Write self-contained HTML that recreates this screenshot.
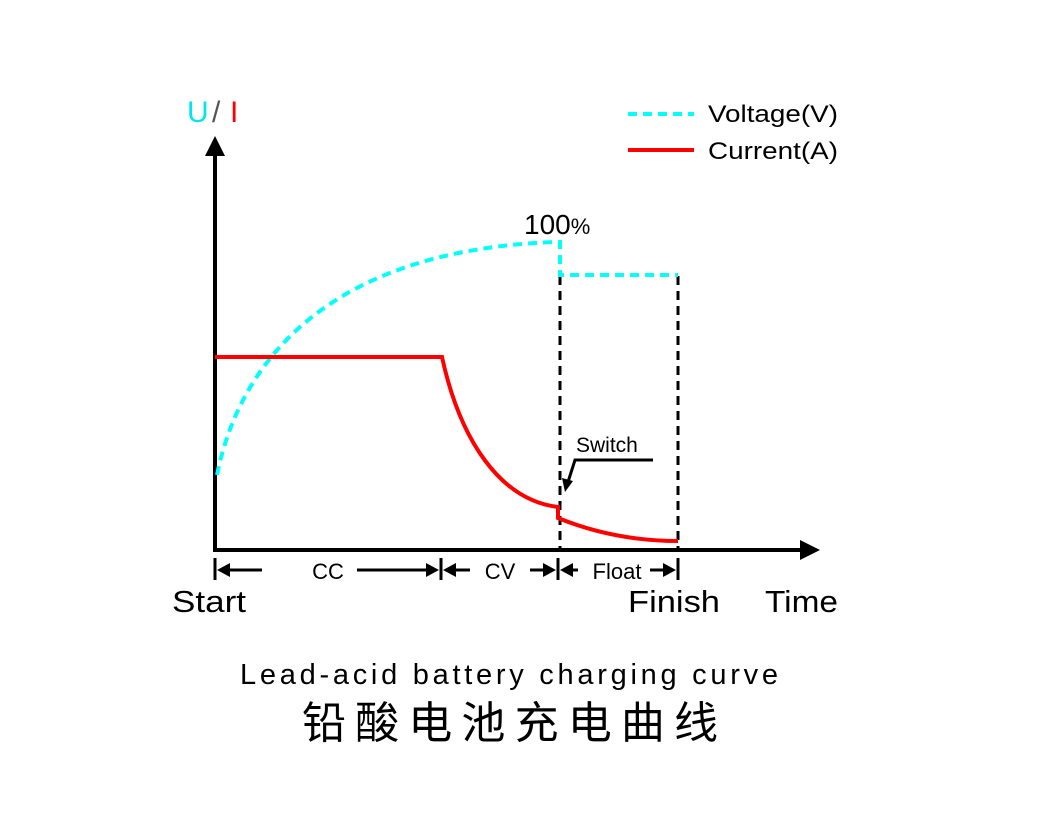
<!DOCTYPE html>
<html><head><style>
body{margin:0;background:#fff;}
svg{display:block;font-family:"Liberation Sans","Noto Sans CJK SC",sans-serif;}
</style></head><body>
<svg width="1040" height="813" viewBox="0 0 1040 813">
<line x1="215" y1="150" x2="215" y2="551" stroke="#000" stroke-width="4"/>
<polygon points="215,136 205,156 225,156" fill="#000"/>
<line x1="213" y1="550" x2="800" y2="550" stroke="#000" stroke-width="4"/>
<polygon points="820,550 800,540 800,560" fill="#000"/>
<text x="187" y="122" font-size="30" fill="#00e5ee">U</text>
<text x="212" y="122" font-size="30" fill="#555">/</text>
<text x="230" y="122" font-size="30" fill="#f00">I</text>
<line x1="628" y1="114" x2="694" y2="114" stroke="#00ffff" stroke-width="4" stroke-dasharray="9,6"/>
<text x="708" y="122" font-size="24" fill="#000" textLength="130" lengthAdjust="spacingAndGlyphs">Voltage(V)</text>
<line x1="628" y1="150" x2="694" y2="150" stroke="#f00" stroke-width="4"/>
<text x="708" y="159" font-size="24" fill="#000" textLength="130" lengthAdjust="spacingAndGlyphs">Current(A)</text>
<text x="524" y="234" font-size="28" fill="#000">100<tspan font-size="22">%</tspan></text>
<line x1="560" y1="276" x2="560" y2="550" stroke="#000" stroke-width="3" stroke-dasharray="9,6"/>
<line x1="678" y1="276" x2="678" y2="550" stroke="#000" stroke-width="3" stroke-dasharray="9,6"/>
<path d="M217,475 C240,360 330,250 555,242 L560,242 L560,275 L678,275" fill="none" stroke="#00ffff" stroke-width="4" stroke-dasharray="9,6"/>
<path d="M215,357 L442,357 C460,440 500,500 558,507 L558,518 C600,535 640,541 678,541" fill="none" stroke="#f00" stroke-width="4"/>
<text x="576" y="452" font-size="21" fill="#000">Switch</text>
<polyline points="653,460 575,460 568,482" fill="none" stroke="#000" stroke-width="3"/>
<polygon points="565,492 562,478 573,481" fill="#000"/>
<g stroke="#000" stroke-width="3">
<line x1="215" y1="558" x2="215" y2="580"/><line x1="441" y1="558" x2="441" y2="580"/>
<line x1="558" y1="558" x2="558" y2="580"/><line x1="678" y1="558" x2="678" y2="580"/>
<line x1="220" y1="570" x2="262" y2="570"/><line x1="357" y1="570" x2="436" y2="570"/>
<line x1="446" y1="570" x2="470" y2="570"/><line x1="530" y1="570" x2="553" y2="570"/>
<line x1="563" y1="570" x2="578" y2="570"/><line x1="650" y1="570" x2="673" y2="570"/>
</g>
<g fill="#000">
<polygon points="217,570 230,563 230,577"/><polygon points="439,570 426,563 426,577"/>
<polygon points="443,570 456,563 456,577"/><polygon points="556,570 543,563 543,577"/>
<polygon points="560,570 573,563 573,577"/><polygon points="676,570 663,563 663,577"/>
</g>
<text x="328" y="579" font-size="22" text-anchor="middle">CC</text>
<text x="500" y="579" font-size="22" text-anchor="middle">CV</text>
<text x="617" y="579" font-size="22" text-anchor="middle">Float</text>
<text x="172" y="612" font-size="31" textLength="74" lengthAdjust="spacingAndGlyphs">Start</text>
<text x="628" y="612" font-size="31" textLength="92" lengthAdjust="spacingAndGlyphs">Finish</text>
<text x="765" y="612" font-size="31" textLength="73" lengthAdjust="spacingAndGlyphs">Time</text>
<text x="240" y="684" font-size="29" textLength="538" lengthAdjust="spacing">Lead-acid battery charging curve</text>
<text x="302" y="738" font-size="44" textLength="416" lengthAdjust="spacing">铅酸电池充电曲线</text>
</svg>
</body></html>
